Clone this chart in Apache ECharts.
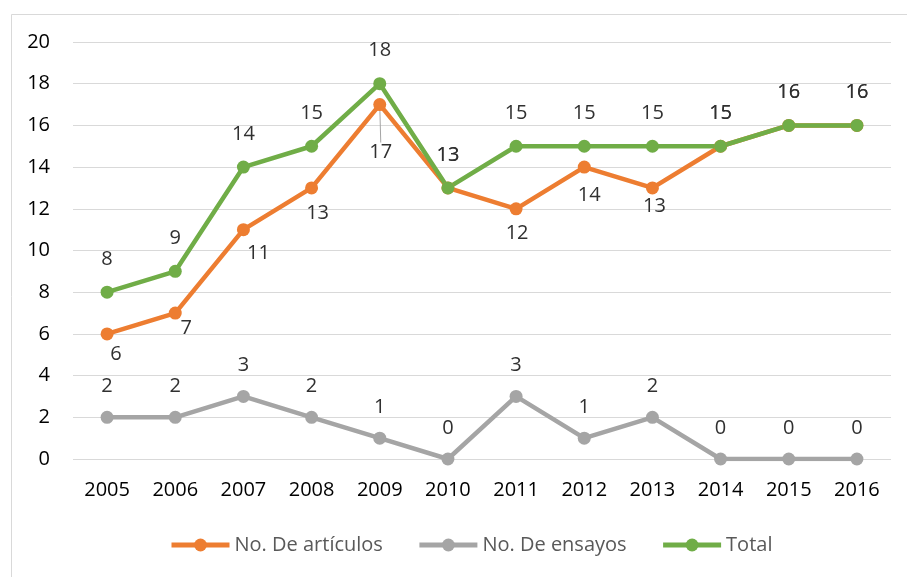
<!DOCTYPE html>
<html>
<head>
<meta charset="utf-8">
<script src="https://cdn.jsdelivr.net/npm/echarts@6/dist/echarts.min.js"></script>
<style>
html,body{margin:0;padding:0;background:#fff;}
#c{width:907px;height:577px;}
</style>
</head>
<body>
<div id="c"></div>
<script>
const years = ['2005','2006','2007','2008','2009','2010','2011','2012','2013','2014','2015','2016'];
const articulos = [6, 7, 11, 13, 17, 13, 12, 14, 13, 15, 16, 16];
const ensayos = [2, 2, 3, 2, 1, 0, 3, 1, 2, 0, 0, 0];
const total = [8, 9, 14, 15, 18, 13, 15, 15, 15, 15, 16, 16];
const yTicks = { min: 0, max: 20, interval: 2 };

// label placement (styling, offsets from point centre)
const articulosLabelOffset = [[9,20],[11,15],[15,24],[6,25],[1,48],[0,-33],[1,24],[5,28],[2,18],[0,-33],[0,-33],[0,-33]];
const LEADER_INDEX = 4;

const FONT = '"Open Sans", sans-serif';
const LABEL_COLOR = '#303030';
const labelBase = { show: true, position: 'inside', align: 'center', verticalAlign: 'middle', color: LABEL_COLOR, fontSize: 20, fontFamily: FONT };

const chart = echarts.init(document.getElementById('c'), null, { renderer: 'canvas' });

const artData = articulos.map((v, i) => ({
  value: v,
  labelLine: i === LEADER_INDEX ? { show: true, lineStyle: { color: '#a5a5a5', width: 1 } } : { show: false }
}));

function mkSeries(name, data, color, dy) {
  return {
    name: name,
    type: 'line',
    data: data,
    symbol: 'circle',
    symbolSize: 13,
    lineStyle: { color: color, width: 4.5 },
    itemStyle: { color: color },
    label: Object.assign({}, labelBase, { offset: [0, dy] }),
    emphasis: { disabled: true },
    animation: false
  };
}

const sArt = mkSeries('No. De artículos', artData, '#ED7D31', 0);
sArt.labelLayout = function (p) {
  const o = articulosLabelOffset[p.dataIndex];
  return { dx: o[0], dy: o[1] };
};
sArt.labelLine = { show: false };

function legendItem(name, color) {
  return { name: name, itemStyle: { color: color }, lineStyle: { color: color, width: 5 } };
}

chart.setOption({
  backgroundColor: '#fff',
  animation: false,
  textStyle: { fontFamily: FONT },
  graphic: [{
    type: 'rect', left: 9, top: 12, shape: { x: 0, y: 0, width: 1000, height: 1000 },
    style: { fill: 'none', stroke: '#d9d9d9', lineWidth: 1 }, silent: true, z: -10
  }],
  grid: { left: 73, right: 16, top: 42, bottom: 118, containLabel: false },
  legend: {
    left: 164, top: 530,
    itemWidth: 58, itemHeight: 16, itemGap: 34,
    textStyle: { color: '#595959', fontSize: 20, fontFamily: FONT },
    data: [legendItem('No. De artículos', '#ED7D31'), legendItem('No. De ensayos', '#A5A5A5'), legendItem('Total', '#70AD47')]
  },
  xAxis: {
    type: 'category', data: years, boundaryGap: true,
    axisLine: { show: false }, axisTick: { show: false },
    axisLabel: { color: '#000', fontSize: 20, fontFamily: FONT, margin: 21 },
    splitLine: { show: false }
  },
  yAxis: {
    type: 'value', min: yTicks.min, max: yTicks.max, interval: yTicks.interval,
    axisLine: { show: false }, axisTick: { show: false },
    axisLabel: { color: '#000', fontSize: 20, fontFamily: FONT, margin: 23 },
    splitLine: { lineStyle: { color: '#d9d9d9', width: 1 } }
  },
  series: [
    sArt,
    mkSeries('No. De ensayos', ensayos, '#A5A5A5', -31),
    mkSeries('Total', total, '#70AD47', -33)
  ]
});
</script>
</body>
</html>
